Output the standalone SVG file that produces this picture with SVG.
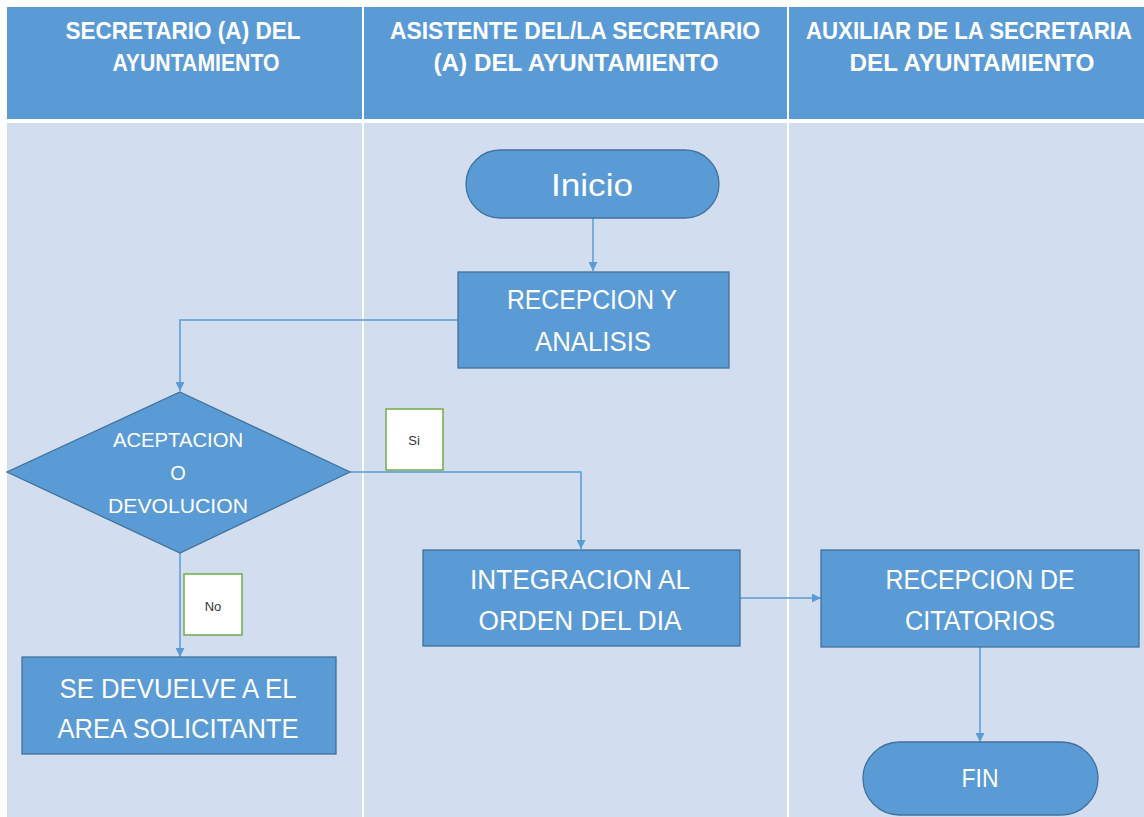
<svg xmlns="http://www.w3.org/2000/svg" width="1144" height="817" viewBox="0 0 1144 817">
<defs>
<style>
.hdr{fill:#5B9BD5}
.lane{fill:#D2DEEF}
.ht{font-family:"Liberation Sans",Arial,sans-serif;font-weight:bold;font-size:24px;fill:#fff;text-anchor:middle}
.node{fill:#5B9BD5;stroke:#41719C;stroke-width:1.3}
.nt{font-family:"Liberation Sans",Arial,sans-serif;font-size:27px;fill:#fff;text-anchor:middle}
.dt{font-family:"Liberation Sans",Arial,sans-serif;font-size:20px;fill:#fff;text-anchor:middle}
.lbl{fill:#fff;stroke:#70AD47;stroke-width:1.5}
.lt{font-family:"Liberation Sans",Arial,sans-serif;font-size:13px;fill:#333;text-anchor:middle}
.con{fill:none;stroke:#5B9BD5;stroke-width:1.5}
</style>
<marker id="arr" viewBox="0 0 10 10" refX="10" refY="5" markerWidth="9" markerHeight="9" markerUnits="userSpaceOnUse" orient="auto">
<path d="M0,0 L10,5 L0,10 z" fill="#5B9BD5"/>
</marker>
</defs>
<rect width="1144" height="817" fill="#fff"/>
<g id="lanes">
<rect class="hdr" x="7" y="7" width="355" height="112"/>
<rect class="hdr" x="364" y="7" width="423" height="112"/>
<rect class="hdr" x="789" y="7" width="355" height="112"/>
<rect class="lane" x="7" y="123" width="355" height="694"/>
<rect class="lane" x="364" y="123" width="423" height="694"/>
<rect class="lane" x="789" y="123" width="355" height="694"/>
<text class="ht" x="183" y="39" textLength="235" lengthAdjust="spacingAndGlyphs">SECRETARIO (A) DEL</text>
<text class="ht" x="196" y="71" textLength="167" lengthAdjust="spacingAndGlyphs">AYUNTAMIENTO</text>
<text class="ht" x="575" y="39" textLength="370" lengthAdjust="spacingAndGlyphs">ASISTENTE DEL/LA SECRETARIO</text>
<text class="ht" x="576" y="71" textLength="285" lengthAdjust="spacingAndGlyphs">(A) DEL AYUNTAMIENTO</text>
<text class="ht" x="969" y="39" style="font-size:23px" textLength="326" lengthAdjust="spacingAndGlyphs">AUXILIAR DE LA SECRETARIA</text>
<text class="ht" x="972" y="71" textLength="245" lengthAdjust="spacingAndGlyphs">DEL AYUNTAMIENTO</text>
</g>
<g id="connectors">
<path class="con" d="M593,218 L593,271" marker-end="url(#arr)"/>
<path class="con" d="M458,320 L180,320 L180,391" marker-end="url(#arr)"/>
<path class="con" d="M350,472 L581,472 L581,549" marker-end="url(#arr)"/>
<path class="con" d="M180,553 L180,657" marker-end="url(#arr)"/>
<path class="con" d="M740,598 L821,598" marker-end="url(#arr)"/>
<path class="con" d="M980,647 L980,742" marker-end="url(#arr)"/>
</g>
<g id="inicio">
<rect class="node" x="466" y="150" width="253" height="68" rx="34" ry="34"/>
<text class="nt" x="592" y="196" style="font-size:32px" textLength="82" lengthAdjust="spacingAndGlyphs">Inicio</text>
</g>
<g id="recepcion">
<rect class="node" x="458" y="272" width="271" height="96"/>
<text class="nt" x="592" y="309" textLength="170" lengthAdjust="spacingAndGlyphs">RECEPCION Y</text>
<text class="nt" x="593" y="351" textLength="116" lengthAdjust="spacingAndGlyphs">ANALISIS</text>
</g>
<g id="decision">
<polygon class="node" points="180,392 350,472 180,553 7,472"/>
<text class="dt" x="178" y="447" textLength="130" lengthAdjust="spacingAndGlyphs">ACEPTACION</text>
<text class="dt" x="178" y="480">O</text>
<text class="dt" x="178" y="513" textLength="140" lengthAdjust="spacingAndGlyphs">DEVOLUCION</text>
</g>
<g id="label-si">
<rect class="lbl" x="386" y="409" width="57" height="61"/>
<text class="lt" x="414" y="445">Si</text>
</g>
<g id="label-no">
<rect class="lbl" x="184" y="574" width="58" height="61"/>
<text class="lt" x="213" y="611">No</text>
</g>
<g id="devuelve">
<rect class="node" x="22" y="657" width="314" height="97"/>
<text class="nt" x="178" y="698" textLength="237" lengthAdjust="spacingAndGlyphs">SE DEVUELVE A EL</text>
<text class="nt" x="178" y="738" textLength="241" lengthAdjust="spacingAndGlyphs">AREA SOLICITANTE</text>
</g>
<g id="integracion">
<rect class="node" x="423" y="550" width="317" height="96"/>
<text class="nt" x="580" y="589" textLength="220" lengthAdjust="spacingAndGlyphs">INTEGRACION AL</text>
<text class="nt" x="580" y="630" textLength="203" lengthAdjust="spacingAndGlyphs">ORDEN DEL DIA</text>
</g>
<g id="citatorios">
<rect class="node" x="821" y="550" width="318" height="97"/>
<text class="nt" x="980" y="589" textLength="189" lengthAdjust="spacingAndGlyphs">RECEPCION DE</text>
<text class="nt" x="980" y="630" textLength="150" lengthAdjust="spacingAndGlyphs">CITATORIOS</text>
</g>
<g id="fin">
<rect class="node" x="863" y="742" width="235" height="73" rx="36.5" ry="36.5"/>
<text class="nt" x="980" y="787" style="font-size:26px" textLength="37" lengthAdjust="spacingAndGlyphs">FIN</text>
</g>
</svg>
